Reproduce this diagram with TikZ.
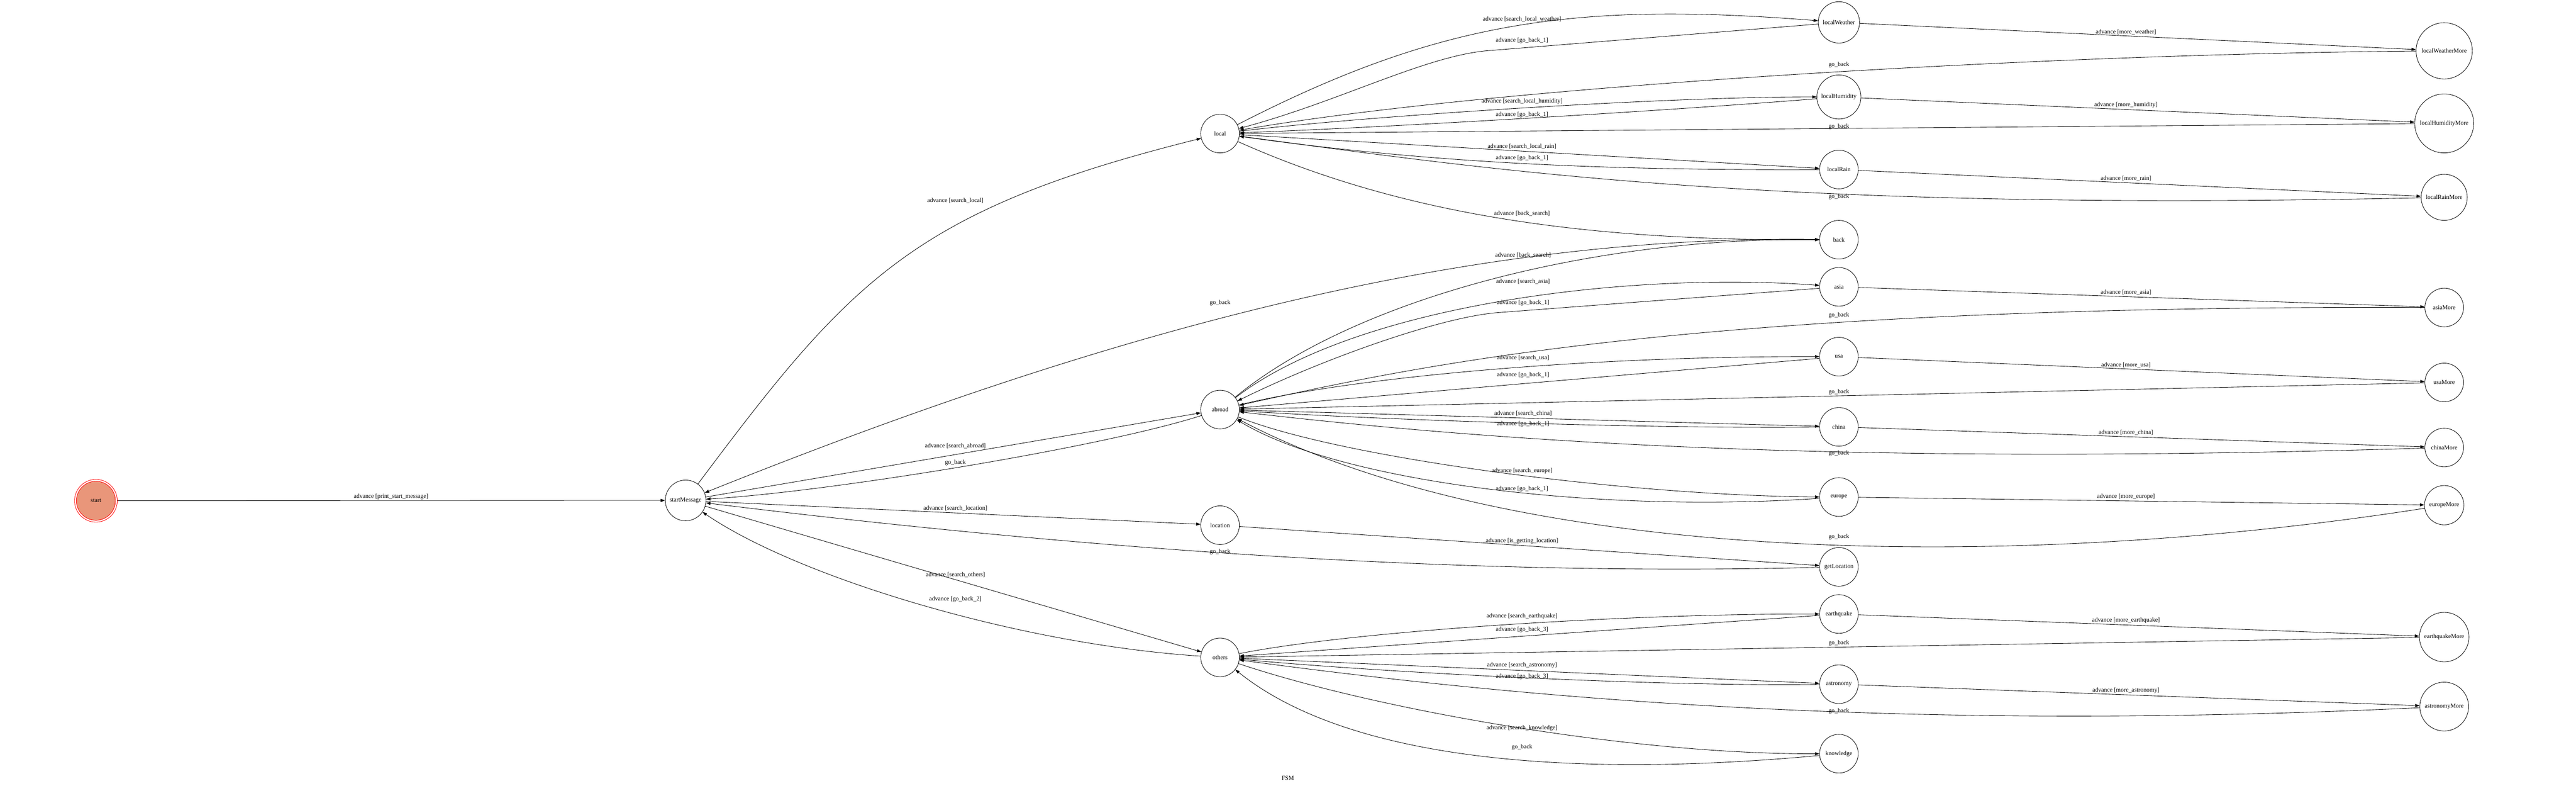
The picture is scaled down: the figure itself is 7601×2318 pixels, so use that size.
\documentclass[tikz,border=0pt]{standalone}
\usepackage{fontspec}
\setmainfont{Liberation Serif}
\usetikzlibrary{arrows.meta}
\newcommand\labfont{\fontsize{9pt}{10pt}\selectfont}
\definecolor{salm}{RGB}{233,150,122}
\begin{document}
\begin{tikzpicture}[x=0.5pt,y=-0.5pt,
  st/.style={circle, draw, line width=0.65pt, inner sep=0pt, minimum size=57pt, font=\labfont},
  e/.style={line width=0.65pt, -{Triangle[length=6.5pt,width=4.5pt]}},
  lb/.style={font=\labfont, inner sep=0pt}]
\useasboundingbox (0,0) rectangle (7601,2318);

% nodes
\node[st, draw=red, minimum size=63pt] (start) at (283,1477) {};
\node[st, draw=red, fill=salm, minimum size=57.5pt] (startIn) at (start) {start};
\node[st, minimum size=60pt] (startMessage) at (2023,1476) {startMessage};
\node[st] (local) at (3600,394) {local};
\node[st] (abroad) at (3600,1208) {abroad};
\node[st] (location) at (3600,1549) {location};
\node[st] (others) at (3600,1939) {others};
\node[st, minimum size=61pt] (localWeather) at (5426,66) {localWeather};
\node[st, minimum size=65pt] (localHumidity) at (5426,286) {localHumidity};
\node[st] (localRain) at (5426,500) {localRain};
\node[st] (back) at (5426,707) {back};
\node[st] (asia) at (5426,846) {asia};
\node[st] (usa) at (5426,1052) {usa};
\node[st] (china) at (5426,1259) {china};
\node[st] (europe) at (5426,1466) {europe};
\node[st] (getLocation) at (5426,1672) {getLocation};
\node[st] (earthquake) at (5426,1811) {earthquake};
\node[st] (astronomy) at (5426,2018) {astronomy};
\node[st] (knowledge) at (5426,2223) {knowledge};
\node[st, minimum size=83pt] (localWeatherMore) at (7212,150) {localWeatherMore};
\node[st, minimum size=87pt] (localHumidityMore) at (7212,364) {localHumidityMore};
\node[st, minimum size=68pt] (localRainMore) at (7212,582) {localRainMore};
\node[st] (asiaMore) at (7212,907) {asiaMore};
\node[st] (usaMore) at (7212,1128) {usaMore};
\node[st] (chinaMore) at (7212,1320) {chinaMore};
\node[st, minimum size=58pt] (europeMore) at (7212,1490) {europeMore};
\node[st, minimum size=73pt] (earthquakeMore) at (7212,1879) {earthquakeMore};
\node[st, minimum size=72pt] (astronomyMore) at (7212,2084) {astronomyMore};
\node[lb] (title) at (3800,2295) {FSM};

% startMessage group
\draw[e] (start) -- (startMessage);
\draw[e] (startMessage) .. controls (2510,825) and (2695,620) .. (local);
\draw[e] (startMessage) -- (abroad);
\draw[e] (abroad) .. controls (3250,1320) and (2450,1450) .. (startMessage);
\draw[e] (startMessage) -- (location);
\draw[e] (getLocation) .. controls (4300,1700) and (3200,1620) .. (startMessage);
\draw[e] (startMessage) -- (others);
\draw[e] (others) .. controls (3000,1900) and (2350,1700) .. (startMessage);
\draw[e] (back) .. controls (4300,690) and (3233,991) .. (startMessage);

% local group
\draw[e] (local) .. controls (4250,60) and (4650,5) .. (localWeather);
\draw[e] (localWeather) -- (4384,150) .. controls (4200,168) and (3950,300) .. (local);
\draw[e] (localWeatherMore) .. controls (6000,160) and (4398,256) .. (local);
\draw[e] (localWeather) -- (localWeatherMore);
\draw[e] (local) .. controls (4000,345) and (4900,285) .. (localHumidity);
\draw[e] (localHumidity) .. controls (4900,328) and (4100,375) .. (local);
\draw[e] (localHumidityMore) -- (local);
\draw[e] (localHumidity) -- (localHumidityMore);
\draw[e] (local) -- (localRain);
\draw[e] (localRain) .. controls (4700,503) and (4200,478) .. (local);
\draw[e] (localRainMore) .. controls (5200,625) and (4400,500) .. (local);
\draw[e] (localRain) -- (localRainMore);
\draw[e] (local) .. controls (4150,640) and (4700,710) .. (back);

% abroad group
\draw[e] (abroad) .. controls (4000,880) and (4700,700) .. (back);
\draw[e] (abroad) .. controls (4000,900) and (4800,800) .. (asia);
\draw[e] (asia) -- (4420,922) .. controls (4250,935) and (3900,1060) .. (abroad);
\draw[e] (asiaMore) .. controls (5000,900) and (4200,1075) .. (abroad);
\draw[e] (asia) -- (asiaMore);
\draw[e] (abroad) .. controls (4000,1110) and (4700,1050) .. (usa);
\draw[e] (usa) -- (abroad);
\draw[e] (usaMore) -- (abroad);
\draw[e] (usa) -- (usaMore);
\draw[e] (abroad) -- (china);
\draw[e] (china) .. controls (4900,1265) and (4100,1240) .. (abroad);
\draw[e] (chinaMore) .. controls (5400,1375) and (4400,1300) .. (abroad);
\draw[e] (china) -- (chinaMore);
\draw[e] (abroad) .. controls (3950,1350) and (4800,1462) .. (europe);
\draw[e] (europe) .. controls (4700,1515) and (3950,1420) .. (abroad);
\draw[e] (europeMore) .. controls (6000,1680) and (4500,1680) .. (abroad);
\draw[e] (europe) -- (europeMore);
\draw[e] (location) -- (getLocation);

% others group
\draw[e] (others) .. controls (4000,1860) and (4800,1810) .. (earthquake);
\draw[e] (earthquake) -- (others);
\draw[e] (earthquakeMore) -- (others);
\draw[e] (earthquake) -- (earthquakeMore);
\draw[e] (others) -- (astronomy);
\draw[e] (astronomy) .. controls (4900,2025) and (4100,1985) .. (others);
\draw[e] (astronomyMore) .. controls (5600,2160) and (4500,2060) .. (others);
\draw[e] (astronomy) -- (astronomyMore);
\draw[e] (others) .. controls (4050,2090) and (4800,2225) .. (knowledge);
\draw[e] (knowledge) .. controls (4700,2290) and (4000,2260) .. (others);

% labels
\node[lb] (l1) at (1154,1465) {advance [print\_start\_message]};
\node[lb] (l2) at (2819,592) {advance [search\_local]};
\node[lb] (l3) at (3600,893) {go\_back};
\node[lb] (l4) at (2819,1315) {advance [search\_abroad]};
\node[lb] (l5) at (2819,1364) {go\_back};
\node[lb] (l6) at (2819,1499) {advance [search\_location]};
\node[lb] (l7) at (3600,1628) {go\_back};
\node[lb] (l8) at (2819,1695) {advance [search\_others]};
\node[lb] (l9) at (2819,1767) {advance [go\_back\_2]};
\node[lb] (l10) at (4491,56) {advance [search\_local\_weather]};
\node[lb] (l11) at (4491,120) {advance [go\_back\_1]};
\node[lb] (l12) at (5426,191) {go\_back};
\node[lb] (l13) at (4491,299) {advance [search\_local\_humidity]};
\node[lb] (l14) at (4491,338) {advance [go\_back\_1]};
\node[lb] (l15) at (5426,373) {go\_back};
\node[lb] (l16) at (4491,432) {advance [search\_local\_rain]};
\node[lb] (l17) at (4491,466) {advance [go\_back\_1]};
\node[lb] (l18) at (5426,580) {go\_back};
\node[lb] (l19) at (4491,630) {advance [back\_search]};
\node[lb] (l20) at (6273,95) {advance [more\_weather]};
\node[lb] (l21) at (6273,310) {advance [more\_humidity]};
\node[lb] (l22) at (6273,526) {advance [more\_rain]};
\node[lb] (l23) at (4494,753) {advance [back\_search]};
\node[lb] (l24) at (4494,830) {advance [search\_asia]};
\node[lb] (l25) at (4494,894) {advance [go\_back\_1]};
\node[lb] (l26) at (5426,930) {go\_back};
\node[lb] (l27) at (4494,1055) {advance [search\_usa]};
\node[lb] (l28) at (4494,1106) {advance [go\_back\_1]};
\node[lb] (l29) at (5426,1157) {go\_back};
\node[lb] (l30) at (4494,1220) {advance [search\_china]};
\node[lb] (l31) at (4494,1250) {advance [go\_back\_1]};
\node[lb] (l32) at (5426,1338) {go\_back};
\node[lb] (l33) at (4491,1389) {advance [search\_europe]};
\node[lb] (l34) at (4491,1442) {advance [go\_back\_1]};
\node[lb] (l35) at (5426,1584) {go\_back};
\node[lb] (l36) at (4491,1596) {advance [is\_getting\_location]};
\node[lb] (l37) at (6273,862) {advance [more\_asia]};
\node[lb] (l38) at (6273,1076) {advance [more\_usa]};
\node[lb] (l39) at (6273,1276) {advance [more\_china]};
\node[lb] (l40) at (6273,1465) {advance [more\_europe]};
\node[lb] (l41) at (4491,1818) {advance [search\_earthquake]};
\node[lb] (l42) at (4491,1857) {advance [go\_back\_3]};
\node[lb] (l43) at (5426,1897) {go\_back};
\node[lb] (l44) at (6273,1830) {advance [more\_earthquake]};
\node[lb] (l45) at (4491,1962) {advance [search\_astronomy]};
\node[lb] (l46) at (4491,1996) {advance [go\_back\_3]};
\node[lb] (l47) at (5426,2097) {go\_back};
\node[lb] (l48) at (6273,2037) {advance [more\_astronomy]};
\node[lb] (l49) at (4491,2147) {advance [search\_knowledge]};
\node[lb] (l50) at (4491,2204) {go\_back};
\end{tikzpicture}
\end{document}
